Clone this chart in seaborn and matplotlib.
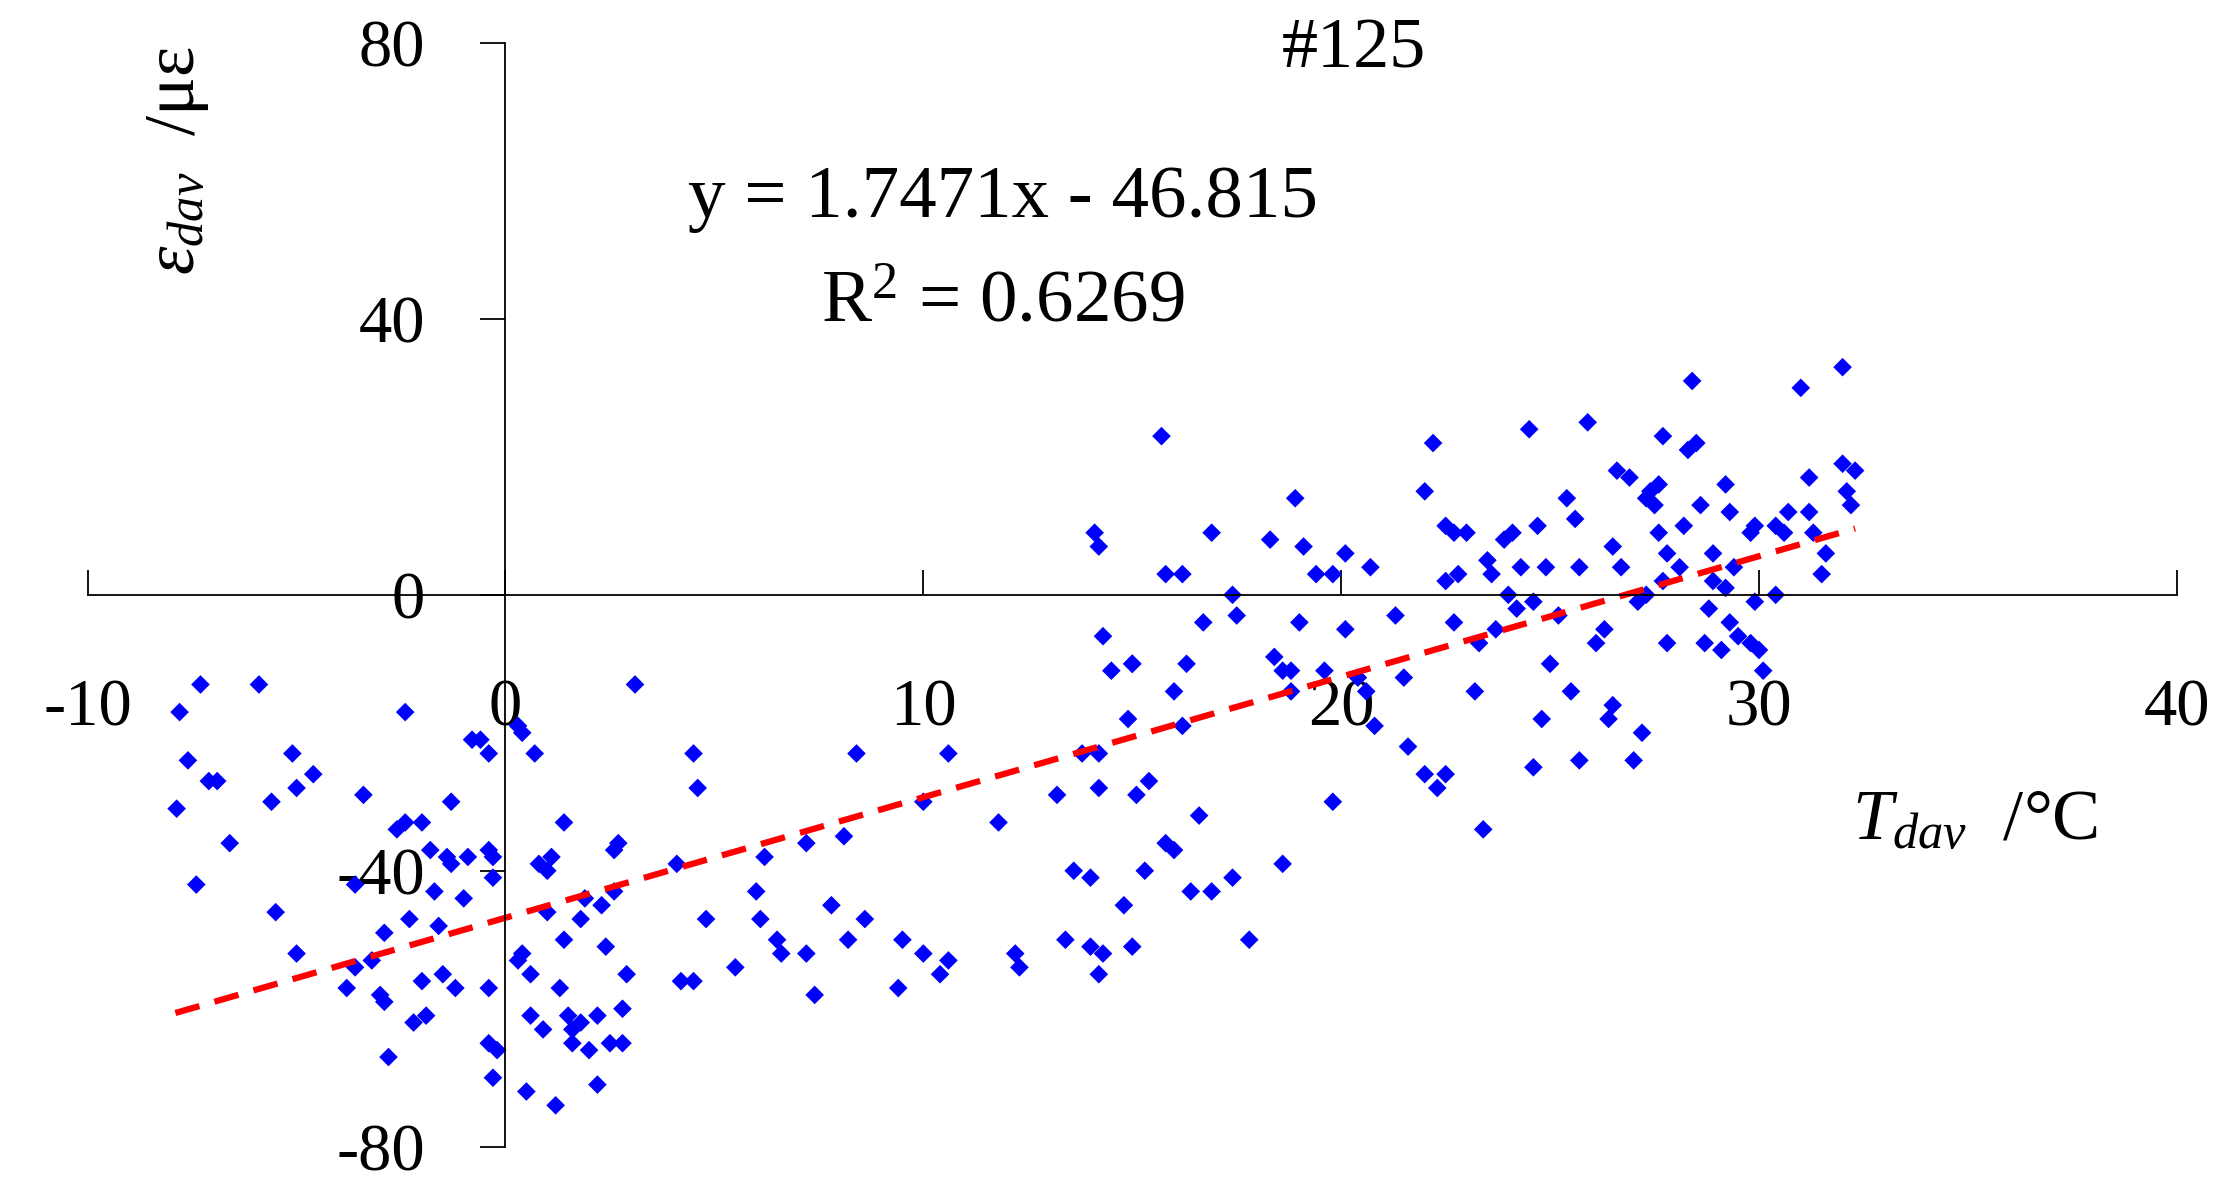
import numpy as np
import pandas as pd
import seaborn as sns
import matplotlib
matplotlib.use("Agg")
import matplotlib.pyplot as plt

T_dav = [-7.87,-7.8,-7.6,-7.3,-7.4,-7.1,-6.9,-6.6,-5.9,-5.6,-5.5,-5.1,-5.0,-5.0,-4.6,-3.8,-3.6,-3.4,-3.6,-3.2,-3.0,-2.9,-2.8,-2.9,-2.6,-2.4,-2.4,-2.3,-2.2,-2.0,-2.0,-1.9,-1.8,-1.7,-1.6,-1.5,-1.4,-1.3,-1.3,-1.2,-1.0,-0.9,-0.8,-0.6,-0.4,-0.4,-0.3,-0.4,-0.4,-0.3,-0.2,-0.3,0.3,0.4,0.5,0.3,0.4,0.6,0.6,0.7,0.8,1.0,1.0,1.1,0.9,1.2,1.3,1.4,1.4,1.5,1.6,1.6,1.8,1.8,1.9,2.0,2.2,2.2,2.3,2.4,2.5,2.6,2.6,2.7,2.8,2.8,2.9,3.1,
 4.1,4.2,4.5,4.5,4.6,4.8,5.5,6.0,6.1,6.2,6.5,6.6,7.2,7.2,7.4,7.8,8.1,8.2,8.4,8.6,9.4,9.5,10.0,10.0,10.4,10.6,10.6,11.8,12.2,12.3,
 13.2,13.4,13.6,13.8,14.0,14.0,14.1,14.2,14.2,14.2,14.2,14.3,14.3,14.5,14.8,14.9,15.0,15.0,15.0,15.1,15.3,15.4,15.7,15.8,15.8,16.0,16.0,16.2,16.2,16.3,16.4,16.6,16.7,16.9,16.9,17.4,17.4,17.5,17.8,18.3,18.4,18.6,18.6,18.8,18.8,18.9,19.0,19.1,19.4,19.6,19.8,19.8,20.1,20.1,20.4,20.6,20.7,20.8,21.3,21.5,21.6,22.0,22.0,22.2,22.3,22.5,22.5,22.5,22.7,22.7,22.8,23.0,23.2,23.3,23.4,23.5,23.6,23.7,23.9,24.0,24.1,24.2,24.3,24.5,24.6,24.6,24.7,24.8,24.9,25.0,25.2,25.4,25.5,25.6,25.7,25.7,25.9,26.1,26.3,26.4,26.5,26.5,26.6,26.7,26.9,27.0,27.1,27.2,27.3,27.3,27.4,27.5,27.6,27.6,27.7,27.7,27.8,27.8,28.1,28.2,28.3,28.4,28.5,28.6,28.8,28.7,28.9,28.9,29.1,29.2,29.2,29.3,29.3,29.4,29.5,29.8,29.8,29.9,29.9,30.0,30.1,30.4,30.4,30.6,30.7,31.0,31.2,31.2,31.3,31.5,31.6,32.0,32.0,32.1,32.2,32.3]
eps_dav = [-31,-17,-24,-13,-42,-27,-27,-36,-13,-30,-46,-23,-28,-52,-26,-57,-54,-29,-42,-53,-58,-59,-67,-49,-34,-17,-33,-47,-62,-56,-33,-61,-37,-43,-48,-55,-38,-39,-30,-57,-44,-38,-21,-21,-37,-23,-41,-57,-65,-38,-66,-70,-19,-20,-72,-53,-52,-61,-55,-23,-39,-40,-46,-38,-63,-74,-57,-33,-50,-61,-63,-65,-62,-47,-44,-66,-71,-61,-45,-51,-65,-43,-37,-36,-60,-65,-55,-13,
 -39,-56,-56,-23,-28,-47,-54,-43,-47,-38,-50,-52,-36,-52,-58,-45,-35,-50,-23,-47,-57,-50,-30,-52,-55,-53,-23,-33,-52,-54,
 -29,-50,-40,-23,-41,-51,9,7,-23,-28,-55,-52,-6,-11,-45,-18,-51,-10,-10,-29,-40,-27,23,3,-36,-37,-14,3,-19,-10,-43,-32,-4,-43,9,-41,0,-3,-50,8,-9,-39,-11,-14,-11,14,-4,7,3,-11,-30,3,6,-5,-12,-14,4,-19,-3,-12,-22,-26,15,22,-28,2,-26,10,-4,9,3,9,-14,-7,-34,5,3,-5,8,0,9,-2,4,24,-25,-1,10,-18,4,-10,-3,14,-14,11,-24,4,25,-7,-5,-18,-16,7,18,4,17,-24,-1,-20,14,0,15,13,9,16,2,23,-7,6,4,10,21,31,22,13,-2,-7,6,2,-8,1,16,12,-4,4,-6,9,-7,-1,10,-8,-11,0,10,9,12,30,12,17,9,3,6,19,33,15,13,18]
slope, intercept = 1.7471, -46.815
fit_x = [-7.9, 32.3]

sns.set_theme(style="white")
plt.rcParams['font.family'] = ['Liberation Serif', 'DejaVu Serif']
plt.rcParams['mathtext.fontset'] = 'custom'
plt.rcParams['mathtext.rm'] = 'Liberation Serif'
plt.rcParams['mathtext.it'] = 'Liberation Serif:italic'
plt.rcParams['axes.unicode_minus'] = False
plt.rcParams['text.color'] = 'black'

fig = plt.figure(figsize=(22.19, 11.92), dpi=100)
ax = fig.add_axes([0.0395, 0.038, 0.9415, 0.926])
df = pd.DataFrame({"T": T_dav, "e": eps_dav})
sns.scatterplot(data=df, x="T", y="e", ax=ax, marker="D", color="#0000FF",
                s=90, edgecolor="none", legend=False)
fx = np.array(fit_x)
ax.plot(fx, slope * fx + intercept, color="#FF0000", lw=4.5, ls=(0, (4, 2.5)))

ax.set_xlim(-10, 40)
ax.set_ylim(-80, 80)
ax.set_xticks([-10, 0, 10, 20, 30, 40])
ax.set_yticks([-80, -40, 0, 40, 80])
for s in ["top", "right"]:
    ax.spines[s].set_visible(False)
ax.spines["left"].set_position(("data", 0))
ax.spines["bottom"].set_position(("data", 0))
for s in ["left", "bottom"]:
    ax.spines[s].set_color("black")
    ax.spines[s].set_linewidth(1.3)
ax.tick_params(axis="x", bottom=True, direction="in", length=18, width=1.3, labelsize=48, pad=60,
               color="black", labelcolor="black")
ax.tick_params(axis="y", left=True, direction="out", length=18, width=1.3, labelsize=48, pad=40,
               color="black", labelcolor="black")
ax.set_xlabel("")
ax.set_ylabel("")

ax.text(0.08, 0.865, r"$\varepsilon_{dav}$  /με", transform=fig.transFigure,
        rotation=90, fontsize=52, ha="center", va="center")
ax.text(0.89, 0.31, r"$T_{dav}$  /°C", transform=fig.transFigure,
        fontsize=52, ha="center", va="center")
ax.text(0.61, 0.958, "#125", transform=fig.transFigure, fontsize=52, ha="center", va="center")
ax.text(0.452, 0.833, "y = 1.7471x - 46.815", transform=fig.transFigure, fontsize=54, ha="center", va="center")
ax.text(0.452, 0.745, r"R$^2$ = 0.6269", transform=fig.transFigure, fontsize=54, ha="center", va="center")

fig.savefig("out.png", dpi=100)
